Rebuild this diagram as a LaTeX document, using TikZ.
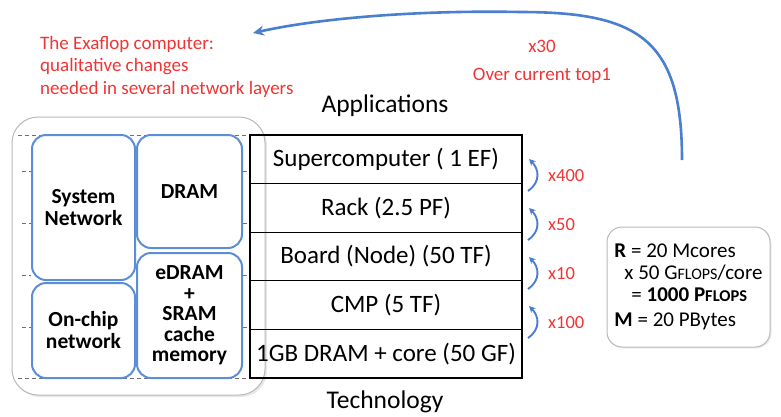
\documentclass[tikz,border=0pt]{standalone}
\usepackage{fontspec}
\setmainfont{Carlito}
\usetikzlibrary{arrows.meta,calc,shadows}
\definecolor{exared}{RGB}{240,52,52}
\definecolor{arrowblue}{RGB}{74,126,208}
\definecolor{boxblue}{RGB}{92,142,216}
\definecolor{framegray}{RGB}{185,185,185}
\definecolor{dashgray}{RGB}{110,110,110}
\newcommand{\smc}[1]{{\fontsize{16}{16}\selectfont #1}}
\newcommand{\smcb}[1]{{\fontsize{16.5}{16}\selectfont\bfseries #1}}

\begin{document}
\begin{tikzpicture}[x=1pt,y=-1pt,
  layer/.style={draw=black, line width=1.3pt, minimum width=272pt, minimum height=48.6pt,
                inner sep=0pt, outer sep=0pt, font=\fontsize{25}{27}\selectfont},
  unit/.style={draw=boxblue, fill=white, line width=2pt, rounded corners=14pt, align=center,
               inner sep=0pt, font=\bfseries\fontsize{21.5}{22}\selectfont},
  container/.style={draw=framegray, fill=white, line width=1pt, rounded corners=26pt,
                    drop shadow={opacity=0.18, shadow xshift=2pt, shadow yshift=-2pt}},
  redtext/.style={text=exared, font=\fontsize{19}{22.5}\selectfont},
  gain/.style={text=exared, font=\fontsize{18.5}{19}\selectfont, anchor=west, inner sep=0pt},
  stepup/.style={draw=arrowblue, line width=1.9pt, -{Stealth[length=6.5pt,width=6.5pt]}},
  bigarrow/.style={draw=arrowblue, line width=2.6pt, -{Stealth[length=11pt,width=10pt]}},
  guide/.style={draw=dashgray, line width=0.8pt, dash pattern=on 4pt off 3pt},
  heading/.style={font=\fontsize{25.5}{26}\selectfont, inner sep=0pt},
  summary/.style={draw=framegray, fill=white, line width=1pt, rounded corners=15pt,
                  minimum width=163pt, minimum height=120pt, align=left,
                  font=\fontsize{21}{22}\selectfont,
                  drop shadow={opacity=0.15, shadow xshift=1.5pt, shadow yshift=-1.5pt}}]
\useasboundingbox (0,0) rectangle (781,416);

% grey frame holding the network / memory blocks
\node[container, minimum width=253pt, minimum height=278pt, inner sep=0pt] (frame) at (138.5,256) {};

% dashed guide lines behind the blocks
\draw[guide] (18,135) -- (250,135);
\draw[guide] (18,378) -- (250,378);
\foreach \yy in {171,223,275,327} {
  \draw[guide] (22,\yy) -- (31,\yy);
  \draw[guide] (243,\yy) -- (250,\yy);
}

% network and memory blocks
\node[unit, minimum width=103pt, minimum height=145pt] (sysnet) at (83.5,207.5) {System\\Network};
\node[unit, minimum width=105pt, minimum height=113pt] (dram)   at (189.5,191.5) {DRAM};
\node[unit, minimum width=103pt, minimum height=95pt]  (onchip) at (83.5,330.5) {On-chip\\network};
\node[unit, minimum width=105pt, minimum height=125pt] (edram)  at (189.5,315.5) {eDRAM\\[-1.5pt]+\\[-1.5pt]SRAM\\[-1.5pt]cache\\[-1.5pt]memory};

% hierarchy of system layers
\node[layer, anchor=north west] (r1) at (250,135)   {Supercomputer ( 1 EF)};
\node[layer, anchor=north]      (r2) at (r1.south) {Rack (2.5 PF)};
\node[layer, anchor=north]      (r3) at (r2.south) {Board (Node) (50 TF)};
\node[layer, anchor=north]      (r4) at (r3.south) {CMP (5 TF)};
\node[layer, anchor=north]      (r5) at (r4.south) {1GB DRAM + core (50 GF)};

\node[heading, anchor=base] (apps) at (385,112) {Applications};
\node[heading, anchor=base] (tech) at (385,408) {Technology};

% growth factors between layers
\coordinate (a1s) at (528,191); \coordinate (a1e) at (529,159);
\coordinate (a2s) at (528,240); \coordinate (a2e) at (529,208);
\coordinate (a3s) at (528,289); \coordinate (a3e) at (529,257);
\coordinate (a4s) at (528,338); \coordinate (a4e) at (529,306);
\foreach \i in {1,2,3,4} {
  \draw[stepup] (a\i s) .. controls ($(a\i s)+(13,-9)$) and ($(a\i e)+(10,10)$) .. (a\i e);
}
\node[gain] (g1) at (548,176) {x400};
\node[gain] (g2) at (548,225) {x50};
\node[gain] (g3) at (548,274) {x10};
\node[gain] (g4) at (548,323) {x100};

% totals of the machine
\node[summary] (rbox) at (688.5,287)
  {\textbf{R} = 20 Mcores\\
   \hspace*{10pt}x 50 G\smc{FLOPS}/core\\
   \hspace*{17pt}= \textbf{1000 P}\smcb{FLOPS}\\[3pt]
   \textbf{M} = 20 PBytes};

% leap to the exaflop machine
\node[redtext, align=center, inner sep=0pt] (gain30) at (542,62) {x30\\[6pt]Over current top1};
\coordinate (arcstart) at (682,160);
\coordinate (arcmid) at (520,12);
\coordinate (arcend) at (253,33);
\draw[bigarrow] (arcstart) .. controls (682,40) and (640,12) .. (arcmid)
                .. controls (420,10) and (320,18) .. (arcend);

\node[redtext, align=left, anchor=north west, inner sep=0pt] (exa) at (40,36)
  {The Exaflop computer:\\qualitative changes\\needed in several network layers};
\end{tikzpicture}
\end{document}
